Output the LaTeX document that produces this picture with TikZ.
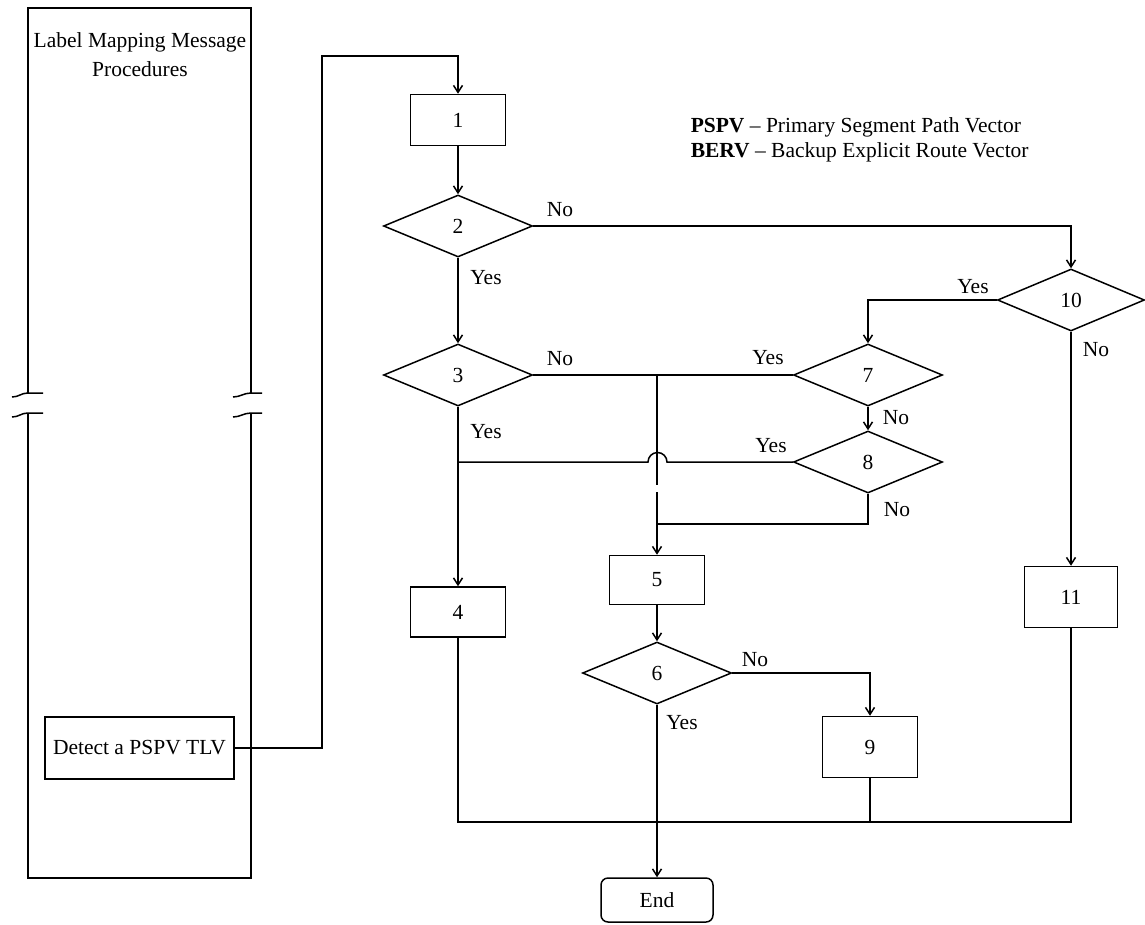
\documentclass[tikz,border=0pt]{standalone}
\usepackage{fontspec}
\setmainfont{Liberation Serif}
\usetikzlibrary{shapes.geometric,arrows.meta}
\begin{document}
\begin{tikzpicture}[x=1pt,y=-1pt,
  font=\fontsize{21.5}{29}\selectfont,
  line width=1.5pt,
  every node/.style={inner sep=0pt},
  arr/.style={-{Straight Barb[length=7pt,width=9pt]}},
  boxn/.style={draw,rectangle,minimum width=95pt,minimum height=51pt},
  dia/.style={draw,diamond,minimum width=149pt,minimum height=62pt},
  lbl/.style={inner sep=0pt}]
\useasboundingbox (0,0) rectangle (1145,924);

% left column with break marks
\draw (28,393) -- (28,8) -- (251,8) -- (251,393);
\draw (28,413) -- (28,878) -- (251,878) -- (251,413);
\draw (12,397) .. controls (19,397) and (21,393) .. (28,393) -- (43,393);
\draw (12,417) .. controls (19,417) and (21,413) .. (28,413) -- (43,413);
\draw (233,397) .. controls (240,397) and (244,393) .. (251,393) -- (262,393);
\draw (233,417) .. controls (240,417) and (244,413) .. (251,413) -- (262,413);
\node[align=center] (ttl) at (140,55) {Label Mapping Message\\Procedures};
\node[draw,minimum width=189pt,minimum height=62pt] (det) at (139.5,748) {Detect a PSPV TLV};

% legend
\node[anchor=west] (lg1) at (690,127) {\textbf{PSPV} -- Primary Segment Path Vector};
\node[anchor=west] (lg2) at (690,152) {\textbf{BERV} -- Backup Explicit Route Vector};

% nodes
\node[boxn] (b1) at (458,120) {1};
\node[dia] (d2) at (458,226) {2};
\node[dia] (d3) at (458,375) {3};
\node[boxn,minimum height=50pt] (b4) at (458,612) {4};
\node[boxn,minimum height=49pt] (b5) at (657,580) {5};
\node[dia] (d6) at (657,673) {6};
\node[dia] (d7) at (868,375) {7};
\node[dia] (d8) at (868,462) {8};
\node[boxn,minimum height=61pt] (b9) at (870,747) {9};
\node[dia,minimum width=147pt] (d10) at (1071,300) {10};
\node[boxn,minimum width=93pt,minimum height=61pt] (b11) at (1071,597) {11};
\node[draw,rounded corners=7pt,minimum width=112pt,minimum height=44pt] (end) at (657,900) {End};

% helper coordinates
\coordinate (t1) at (322,56);
\coordinate (j1) at (657,375);
\coordinate (g1) at (657,485);
\coordinate (g2) at (657,492);
\coordinate (h1) at (667,462);
\coordinate (j2) at (458,462);
\coordinate (j3) at (657,524);
\coordinate (j4) at (657,822);
\coordinate (j5) at (870,822);

% connectors
\draw[arr] (det.east) -| (t1) -| (b1.north);
\draw[arr] (b1.south) -- (d2.north);
\draw[arr] (d2.east) -| (d10.north);
\draw[arr] (d2.south) -- (d3.north);
\draw[arr] (d3.south) -- (b4.north);
\draw (d3.east) -- (d7.west);
\draw (j1) -- (g1);
\draw[arr] (g2) -- (b5.north);
\draw[arr] (d10.west) -| (d7.north);
\draw[arr] (d7.south) -- (d8.north);
\draw (d8.west) -- (h1) arc (0:-180:9.5) -- (j2);
\draw (d8.south) |- (j3);
\draw[arr] (d10.south) -- (b11.north);
\draw[arr] (b5.south) -- (d6.north);
\draw[arr] (d6.east) -| (b9.north);
\draw[arr] (d6.south) -- (end.north);
\draw (b4.south) |- (j4);
\draw (b11.south) |- (j4);
\draw (b9.south) -- (j5);

% labels
\node[lbl] (l2n) at (560,210) {No};
\node[lbl] (l2y) at (486,278) {Yes};
\node[lbl] (l3n) at (560,359) {No};
\node[lbl] (l7y) at (768,358) {Yes};
\node[lbl] (l3y) at (486,432) {Yes};
\node[lbl] (l8y) at (771,446) {Yes};
\node[lbl] (l7n) at (896,418) {No};
\node[lbl] (l8n) at (897,510) {No};
\node[lbl] (l10y) at (973,287) {Yes};
\node[lbl] (l10n) at (1096,350) {No};
\node[lbl] (l6n) at (755,660) {No};
\node[lbl] (l6y) at (682,723) {Yes};
\end{tikzpicture}
\end{document}
